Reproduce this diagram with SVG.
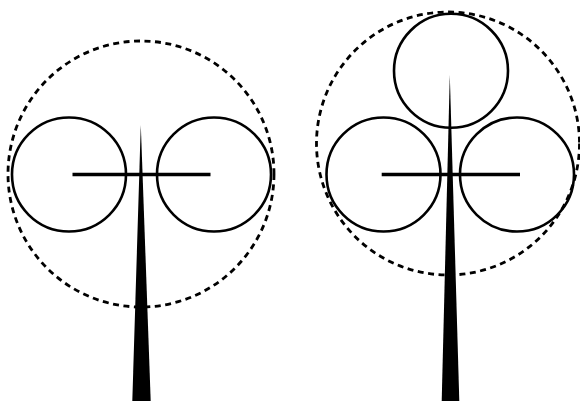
<svg xmlns="http://www.w3.org/2000/svg" width="580" height="401" viewBox="0 0 580 401">
<style>
.dash{fill:none;stroke:#000;stroke-width:2.8;stroke-dasharray:6 4.5}
.c{fill:none;stroke:#000;stroke-width:2.6}
.bar{stroke:#000;stroke-width:3.5}
.trunk{fill:#000}
</style>
<rect width="580" height="401" fill="#fff"/>
<g id="left-tree">
<circle class="dash" cx="141" cy="174" r="133"/>
<circle class="c" cx="69" cy="174.5" r="57"/>
<circle class="c" cx="214" cy="174.5" r="57"/>
<line class="bar" x1="72.5" y1="174.5" x2="210.5" y2="174.5"/>
<polygon class="trunk" points="140.8,125 132.3,401 150.7,401"/>
</g>
<g id="right-tree">
<circle class="dash" cx="448" cy="143.5" r="131.5"/>
<circle class="c" cx="451" cy="70.8" r="57"/>
<circle class="c" cx="383.5" cy="174.5" r="57"/>
<circle class="c" cx="517" cy="174.5" r="57"/>
<line class="bar" x1="381.7" y1="174.5" x2="520" y2="174.5"/>
<polygon class="trunk" points="449.8,75 441.7,401 459.3,401"/>
</g>
</svg>
